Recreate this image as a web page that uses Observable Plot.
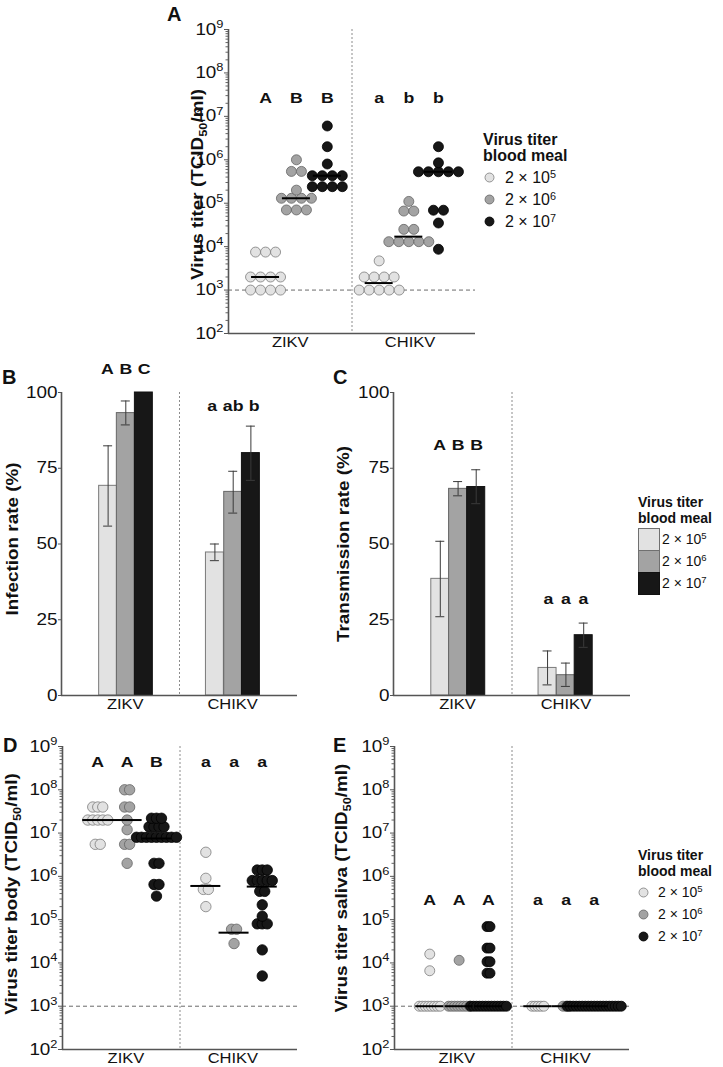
<!DOCTYPE html>
<html><head><meta charset="utf-8">
<script src="https://cdn.jsdelivr.net/npm/d3@7"></script>
<script src="https://cdn.jsdelivr.net/npm/@observablehq/plot@0.6"></script>
<style>
body{margin:0;background:#fff;}
#fig{position:relative;width:723px;height:1067px;overflow:hidden;font-family:'Liberation Sans',Arial,Helvetica,sans-serif;color:#111;background:#fff;}
.abs{position:absolute;white-space:nowrap;}
sup{font-size:0.68em;vertical-align:0.5em;line-height:0;}
</style></head><body><div id="fig"></div>
<script>
// ---------------- data ----------------
const viruses = ["ZIKV", "CHIKV"];
const titers = ["2 × 10^{5}", "2 × 10^{6}", "2 × 10^{7}"];

// A: virus titer (TCID50/ml), groups = blood-meal titers
const A_ZIKV = [
  [1e3, 1e3, 1e3, 1e3, 2e3, 2e3, 2e3, 2e3, 7.5e3, 7.5e3, 7.5e3],
  [7e4, 7e4, 7e4, 1.3e5, 1.3e5, 1.3e5, 1.3e5, 2e5, 5.4e5, 5.4e5, 1e6],
  [2.4e5, 2.4e5, 2.4e5, 2.4e5, 4.3e5, 4.3e5, 4.3e5, 4.3e5, 8e5, 2e6, 6e6]
];
const A_CHIKV = [
  [1e3, 1e3, 1e3, 1e3, 1e3, 2e3, 2e3, 2e3, 2e3, 4.7e3],
  [1.3e4, 1.3e4, 1.3e4, 1.3e4, 1.3e4, 2.5e4, 2.5e4, 6.6e4, 6.6e4, 1.1e5],
  [8.7e3, 3.5e4, 6.9e4, 6.9e4, 5.3e5, 5.3e5, 5.3e5, 5.3e5, 5.3e5, 8.5e5, 2e6]
];
const A_medZIKV = [2e3, 1.3e5, 4.3e5];
const A_medCHIKV = [1.45e3, 1.7e4, 5.3e5];
const A_lettersZIKV = ["A", "B", "B"];
const A_lettersCHIKV = ["a", "b", "b"];
const A_letterLevel = 2.6e7;

// B: infection rate (%)
const B_meanZIKV = [69.2, 93.2, 100];
const B_loZIKV = [55.9, 89.3, null];
const B_hiZIKV = [82.4, 97.2, null];
const B_meanCHIKV = [47.2, 67.2, 80];
const B_loCHIKV = [44.5, 60.2, 71];
const B_hiCHIKV = [50, 74, 88.9];
const B_lettersZIKV = ["A", "B", "C"];
const B_lettersCHIKV = ["a", "ab", "b"];
const B_letterLevels = [107.6, 95.4];

// C: transmission rate (%)
const C_meanZIKV = [38.5, 68.2, 68.8];
const C_loZIKV = [26, 65.9, 63.3];
const C_hiZIKV = [50.9, 70.6, 74.5];
const C_meanCHIKV = [9.1, 6.7, 19.9];
const C_loCHIKV = [3.5, 3, 15.9];
const C_hiCHIKV = [14.7, 10.7, 23.9];
const C_lettersZIKV = ["A", "B", "B"];
const C_lettersCHIKV = ["a", "a", "a"];
const C_letterLevels = [82.5, 31.7];

// D: virus titer body (TCID50/ml)
const D_ZIKV = [
  [5.5e6, 5.5e6, 2e7, 2e7, 2e7, 2e7, 2e7, 4e7, 4e7, 4e7],
  [2e6, 5.5e6, 5.5e6, 1.2e7, 2e7, 4e7, 4e7, 1e8, 1e8],
  [3.5e5, 6.5e5, 6.5e5, 2e6, 2e6, 8e6, 8e6, 8e6, 8e6, 8e6, 8e6, 8e6, 8e6, 8e6, 1.4e7, 1.4e7, 1.4e7, 1.4e7, 2.2e7, 2.2e7, 2.2e7]
];
const D_CHIKV = [
  [2e5, 5e5, 5e5, 9e5, 3.6e6],
  [2.8e4, 6e4, 6e4],
  [5e3, 2e4, 8e4, 8e4, 8e4, 1.2e5, 2.2e5, 4.5e5, 4.5e5, 8e5, 8e5, 8e5, 8e5, 8e5, 1.4e6, 1.4e6, 1.4e6]
];
const D_medZIKV = [2e7, 2e7, 7.5e6];
const D_medCHIKV = [6e5, 5e4, 5.8e5];
const D_lettersZIKV = ["A", "A", "B"];
const D_lettersCHIKV = ["a", "a", "a"];
const D_letterLevel = 4.4e8;

// E: virus titer saliva (TCID50/ml)
const E_ZIKV = [
  [1e3, 1e3, 1e3, 1e3, 1e3, 1e3, 1e3, 1e3, 6.6e3, 1.6e4],
  [1e3, 1e3, 1e3, 1e3, 1e3, 1e3, 1e3, 1e3, 1.15e4],
  [1e3, 1e3, 1e3, 1e3, 1e3, 1e3, 1e3, 1e3, 1e3, 1e3, 1e3, 1e3, 1e3, 5.8e3, 5.8e3, 1.07e4, 1.07e4, 2.2e4, 2.2e4, 6.9e4, 6.9e4]
];
const E_CHIKV = [
  [1e3, 1e3, 1e3, 1e3, 1e3],
  [1e3, 1e3, 1e3],
  [1e3, 1e3, 1e3, 1e3, 1e3, 1e3, 1e3, 1e3, 1e3, 1e3, 1e3, 1e3, 1e3, 1e3, 1e3, 1e3, 1e3, 1e3, 1e3]
];
const E_medZIKV = [1e3, 1e3, 1e3];
const E_medCHIKV = [1e3, 1e3, 1e3];
const E_lettersZIKV = ["A", "A", "A"];
const E_lettersCHIKV = ["a", "a", "a"];
const E_letterLevel = 2.8e5;

// ---------------- styling / layout ----------------
const FONT = "'Liberation Sans', Arial, Helvetica, sans-serif";
const FILL = ["#e2e2e2", "#a3a3a3", "#171717"];
const EDGE = ["#7c7c7c", "#646464", "#000000"];
const BAR_EDGE = ["#7a7a7a", "#666666", "#111111"];
const STRETCH = 1.18, LETTER_STRETCH = 1.1;
const dotPos = [[0.3, 0.55, 0.8], [1.22, 1.46, 1.7]];
const barPos = [[0.395, 0.545, 0.698], [1.30, 1.455, 1.605]];
const BAR_W = 0.152;
const fig = document.getElementById("fig");
const SVGNS = "http://www.w3.org/2000/svg";

function swarm(vals, c, spacingPx, ppu) {
  const counts = d3.rollup(vals, v => v.length, d => d);
  const seen = new Map();
  return vals.map(v => {
    const n = counts.get(v), i = seen.get(v) || 0;
    seen.set(v, i + 1);
    return {v, x: c + (i - (n - 1) / 2) * spacingPx / ppu};
  });
}

function richify(svg) {
  svg.querySelectorAll("text").forEach(t => {
    const s = t.textContent;
    if (!/[\^_]\{/.test(s)) return;
    const fs = parseFloat(getComputedStyle(t).fontSize) || 16;
    const parts = s.split(/([\^_]\{[^}]*\})/).filter(p => p);
    t.textContent = "";
    let cur = 0;
    parts.forEach(p => {
      const ts = document.createElementNS(SVGNS, "tspan");
      let target = 0, txt = p;
      if (p.startsWith("^{")) { target = -0.42 * fs; txt = p.slice(2, -1); ts.setAttribute("font-size", (0.68 * fs) + "px"); }
      else if (p.startsWith("_{")) { target = 0.28 * fs; txt = p.slice(2, -1); ts.setAttribute("font-size", (0.68 * fs) + "px"); }
      if (target - cur !== 0) ts.setAttribute("dy", (target - cur) + "px");
      cur = target;
      ts.textContent = txt;
      t.appendChild(ts);
    });
  });
}

// widen glyphs along the text direction about each text's anchor
function stretch(svg) {
  svg.querySelectorAll("text").forEach(t => {
    const k = t.closest('[aria-label="letters"]') ? LETTER_STRETCH : STRETCH;
    const tr = t.getAttribute("transform") || "";
    let x = parseFloat(t.getAttribute("x"));
    if (!isFinite(x)) x = 0;
    t.setAttribute("transform", `${tr} translate(${x},0) scale(${k},1) translate(${-x},0)`.trim());
  });
}

function mount(svg, g) {
  const div = document.createElement("div");
  div.className = "abs";
  div.style.left = g.left + "px"; div.style.top = g.top + "px";
  div.style.width = g.width + "px"; div.style.height = g.height + "px";
  div.appendChild(svg);
  fig.appendChild(div);
  richify(svg);
  stretch(svg);
}

function baseOpts(g) {
  return {
    width: g.width, height: g.height,
    marginLeft: g.ml, marginRight: g.mr, marginTop: g.mt, marginBottom: g.mb,
    style: {background: "transparent", overflow: "visible", fontFamily: FONT, fontSize: "16px", color: "#111"}
  };
}

function commonMarks(g, ymin, title) {
  return [
    Plot.ruleX([0], {stroke: "#555", strokeWidth: 1.6}),
    Plot.ruleY([ymin], {stroke: "#555", strokeWidth: 1.6}),
    Plot.text(viruses, {x: (d, i) => g.labelX[i], frameAnchor: "bottom", dy: 9, lineAnchor: "middle", textAnchor: "middle", text: d => d, fontSize: 14, fill: "#111"}),
    Plot.text([title], {frameAnchor: "left", rotate: -90, dx: g.titleDx, dy: g.titleDy || 0, textAnchor: "middle", lineAnchor: "middle", text: d => d, fontWeight: "bold", fontSize: 16, fill: "#111"})
  ];
}

function letterMark(letters) {
  return Plot.text(letters, {x: "x", y: "y", text: "t", fontWeight: "bold", fontSize: 15, fill: "#111", ariaLabel: "letters"});
}

function dotPanel(g, d) {
  const ppu = (g.width - g.ml - g.mr) / 2;
  const dots = [], meds = [], letters = [];
  d.values.forEach((groups, vi) => groups.forEach((vals, li) => {
    const c = dotPos[vi][li];
    swarm(vals, c, g.spacing, ppu).forEach(p => dots.push({...p, li}));
    meds.push({y: d.medians[vi][li], x1: c - g.medHalf / ppu, x2: c + g.medHalf / ppu});
    letters.push({x: c, y: d.letterLevel, t: d.letters[vi][li]});
  }));
  const majors = d3.range(2, 10).map(e => 10 ** e);
  const minors = d3.range(2, 9).flatMap(e => d3.range(2, 10).map(k => k * 10 ** e));
  const svg = Plot.plot({
    ...baseOpts(g),
    x: {domain: [0, 2], axis: null},
    y: {type: "log", domain: [1e2, 1e9]},
    marks: [
      Plot.ruleY([1e3], {stroke: "#6a6a6a", strokeWidth: 1, strokeDasharray: "4,3"}),
      Plot.ruleX([1], {stroke: "#8c8c8c", strokeWidth: 1, strokeDasharray: "2,2"}),
      ...[0, 1, 2].map(li => Plot.dot(dots.filter(p => p.li === li), {x: "x", y: "v", r: g.r, fill: FILL[li], stroke: EDGE[li], strokeWidth: 0.8})),
      Plot.ruleY(meds, {y: "y", x1: "x1", x2: "x2", stroke: "#000", strokeWidth: 2}),
      letterMark(letters),
      Plot.axisY({ticks: minors, tickSize: 2.5, tickFormat: () => "", stroke: "#666", label: null}),
      Plot.axisY({ticks: majors, tickSize: 4, tickPadding: 1, tickFormat: v => `10^{${Math.round(Math.log10(v))}}`, fontSize: 16, stroke: "#555", fill: "#111", label: null}),
      ...commonMarks(g, 1e2, d.title)
    ]
  });
  mount(svg, g);
}

function barPanel(g, d) {
  const ppu = (g.width - g.ml - g.mr) / 2;
  const bars = [], errs = [], letters = [];
  viruses.forEach((v, vi) => [0, 1, 2].forEach(li => {
    const c = barPos[vi][li];
    bars.push({x1: c - BAR_W / 2, x2: c + BAR_W / 2, m: d.mean[vi][li], li});
    if (d.lo[vi][li] != null) errs.push({x: c, lo: d.lo[vi][li], hi: d.hi[vi][li], c1: c - g.cap / ppu, c2: c + g.cap / ppu});
    const mid = barPos[vi][1];
    letters.push({x: mid + (li - 1) * g.letterGap[vi] / ppu, y: d.letterLevels[vi], t: d.letters[vi][li]});
  }));
  const svg = Plot.plot({
    ...baseOpts(g),
    x: {domain: [0, 2], axis: null},
    y: {domain: [0, 100]},
    marks: [
      Plot.ruleX([1], {stroke: "#8c8c8c", strokeWidth: 1, strokeDasharray: "2,2"}),
      ...[0, 1, 2].map(li => Plot.rect(bars.filter(b => b.li === li), {x1: "x1", x2: "x2", y1: () => 0, y2: "m", fill: FILL[li], stroke: BAR_EDGE[li], strokeWidth: 1})),
      Plot.ruleX(errs, {x: "x", y1: "lo", y2: "hi", stroke: "#3a3a3a", strokeWidth: 1}),
      Plot.ruleY(errs, {y: "hi", x1: "c1", x2: "c2", stroke: "#3a3a3a", strokeWidth: 1}),
      Plot.ruleY(errs, {y: "lo", x1: "c1", x2: "c2", stroke: "#3a3a3a", strokeWidth: 1}),
      letterMark(letters),
      Plot.axisY({ticks: [0, 25, 50, 75, 100], tickSize: 3, tickPadding: 1, fontSize: 16, stroke: "#555", fill: "#111", label: null}),
      ...commonMarks(g, 0, d.title)
    ]
  });
  mount(svg, g);
}

// ---------------- panels ----------------
dotPanel({left: 140, top: 0, width: 340, height: 367, ml: 88, mr: 5, mt: 29, mb: 34,
  spacing: 10, r: 5, medHalf: 14, labelX: [0.5, 1.47], titleDx: -31, titleDy: 3},
  {values: [A_ZIKV, A_CHIKV], medians: [A_medZIKV, A_medCHIKV], letters: [A_lettersZIKV, A_lettersCHIKV],
   letterLevel: A_letterLevel, title: "Virus titer (TCID_{50}/ml)"});

barPanel({left: 0, top: 340, width: 302, height: 380, ml: 61, mr: 5, mt: 52, mb: 25,
  cap: 4.5, letterGap: [18.3, 21], labelX: [0.54, 1.45], titleDx: -49, titleDy: -5},
  {mean: [B_meanZIKV, B_meanCHIKV], lo: [B_loZIKV, B_loCHIKV], hi: [B_hiZIKV, B_hiCHIKV],
   letters: [B_lettersZIKV, B_lettersCHIKV], letterLevels: B_letterLevels, title: "Infection rate (%)"});

barPanel({left: 330, top: 340, width: 305, height: 380, ml: 63, mr: 5, mt: 52, mb: 25,
  cap: 4.5, letterGap: [18.5, 17.5], labelX: [0.54, 1.455], titleDx: -50},
  {mean: [C_meanZIKV, C_meanCHIKV], lo: [C_loZIKV, C_loCHIKV], hi: [C_hiZIKV, C_hiCHIKV],
   letters: [C_lettersZIKV, C_lettersCHIKV], letterLevels: C_letterLevels, title: "Transmission rate (%)"});

dotPanel({left: 0, top: 720, width: 302, height: 347, ml: 62, mr: 5, mt: 26, mb: 18,
  spacing: 5, r: 5.2, medHalf: 15, labelX: [0.54, 1.45], titleDx: -51, titleDy: -4},
  {values: [D_ZIKV, D_CHIKV], medians: [D_medZIKV, D_medCHIKV], letters: [D_lettersZIKV, D_lettersCHIKV],
   letterLevel: D_letterLevel, title: "Virus titer body (TCID_{50}/ml)"});

dotPanel({left: 330, top: 720, width: 304, height: 347, ml: 64, mr: 5, mt: 26, mb: 18,
  spacing: 3, r: 5, medHalf: 14, labelX: [0.53, 1.455], titleDx: -53, titleDy: -10},
  {values: [E_ZIKV, E_CHIKV], medians: [E_medZIKV, E_medCHIKV], letters: [E_lettersZIKV, E_lettersCHIKV],
   letterLevel: E_letterLevel, title: "Virus titer saliva (TCID_{50}/ml)"});

// ---------------- legends & panel letters ----------------
function supHtml(s) { return s.replace(/\^\{([^}]*)\}/g, "<sup>$1</sup>"); }
function textAt(html, left, cy, size, bold) {
  const el = document.createElement("div");
  el.className = "abs";
  const lh = Math.round(size * 1.2);
  el.style.left = left + "px"; el.style.top = (cy - lh / 2) + "px";
  el.style.fontSize = size + "px"; el.style.lineHeight = lh + "px";
  if (bold) el.style.fontWeight = "bold";
  el.innerHTML = html;
  fig.appendChild(el);
}
function circleAt(cx, cy, r, li) {
  const el = document.createElement("div");
  el.className = "abs";
  el.style.left = (cx - r - 1) + "px"; el.style.top = (cy - r - 1) + "px";
  el.innerHTML = `<svg width="${2 * r + 2}" height="${2 * r + 2}" style="display:block"><circle cx="${r + 1}" cy="${r + 1}" r="${r}" fill="${FILL[li]}" stroke="${EDGE[li]}" stroke-width="0.8"/></svg>`;
  fig.appendChild(el);
}
function rectAt(x, y, w, h, li) {
  const el = document.createElement("div");
  el.className = "abs";
  el.style.left = x + "px"; el.style.top = y + "px";
  el.style.width = w + "px"; el.style.height = h + "px";
  el.style.boxSizing = "border-box";
  el.style.background = FILL[li];
  el.style.border = `1.5px solid ${li === 2 ? "#111" : "#707070"}`;
  fig.appendChild(el);
}

// legend A
textAt("Virus titer", 483, 139, 16, true);
textAt("blood meal", 483, 155, 16, true);
titers.forEach((t, i) => { circleAt(489, 177 + 22 * i, 4.5, i); textAt(supHtml(t), 505, 177 + 22 * i, 16, false); });
// legend C
textAt("Virus titer", 638, 502, 14, true);
textAt("blood meal", 638, 518, 14, true);
titers.forEach((t, i) => { rectAt(638, 528 + 22 * i, 22, 23, i); textAt(supHtml(t), 662, 539 + 22 * i, 14, false); });
// legend E
textAt("Virus titer", 638, 855, 14, true);
textAt("blood meal", 638, 871.5, 14, true);
titers.forEach((t, i) => { circleAt(643, 892 + 22 * i, 4.5, i); textAt(supHtml(t), 658, 892 + 22 * i, 14, false); });

// panel letters
textAt("A", 167, 13.5, 20, true);
textAt("B", 2, 376.5, 20, true);
textAt("C", 333, 376.5, 20, true);
textAt("D", 3, 745, 20, true);
textAt("E", 333, 745, 20, true);
</script></body></html>
